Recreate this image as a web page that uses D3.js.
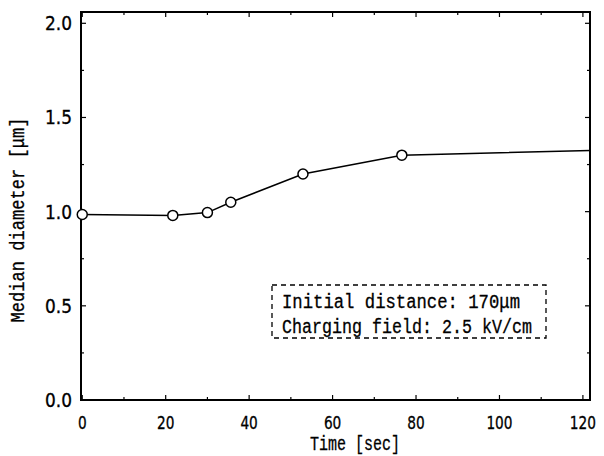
<!DOCTYPE html>
<html>
<head>
<meta charset="utf-8">
<script src="https://cdn.jsdelivr.net/npm/d3@7"></script>
<style>
  body { margin: 0; background: #fff; }
  text { fill: #000; }
</style>
</head>
<body>
<div id="chart"></div>
<script>
'use strict';

// measured points
var times = [0, 21.7, 30, 35.6, 52.9, 76.6];
var diameters = [0.985, 0.98, 0.995, 1.05, 1.2, 1.3];
// the drawn line runs on past the last point to the frame
var lineTimes = [0, 21.7, 30, 35.6, 52.9, 76.6, 121.7];
var lineDiameters = [0.985, 0.98, 0.995, 1.05, 1.2, 1.3, 1.325];

var xTicks = [0, 20, 40, 60, 80, 100, 120];
var xMinor = [10, 30, 50, 70, 90, 110];
var yTicks = [0, 0.5, 1.0, 1.5, 2.0];
var yMinor = [0.25, 0.75, 1.25, 1.75];
var noteLines = ['Initial distance: 170\u03bcm', 'Charging field: 2.5 kV/cm'];
var noteWidths = [238, 250];

var W = 604, H = 456;
var svg = d3.select('#chart').append('svg').attr('width', W).attr('height', H);

var x = d3.scaleLinear().domain([-0.3, 121.7]).range([81, 590]);
var y = d3.scaleLinear().domain([0, 2.06]).range([400, 12]);

var numFont = '"DejaVu Sans Condensed", "DejaVu Sans", sans-serif';
var monoFont = '"Liberation Mono", "DejaVu Sans Mono", monospace';

var x0 = x.range()[0], x1 = x.range()[1], y0 = y.range()[0], y1 = y.range()[1];

// frame
svg.append('rect')
  .attr('x', x0).attr('y', y1)
  .attr('width', x1 - x0).attr('height', y0 - y1)
  .attr('fill', 'none').attr('stroke', '#000').attr('stroke-width', 2);

// inward ticks on all four sides
function ticks(vals, len) {
  vals.forEach(function(v) {
    svg.append('line').attr('x1', x(v)).attr('x2', x(v)).attr('y1', y0).attr('y2', y0 - len)
      .attr('stroke', '#000').attr('stroke-width', 1.2);
    svg.append('line').attr('x1', x(v)).attr('x2', x(v)).attr('y1', y1).attr('y2', y1 + len)
      .attr('stroke', '#000').attr('stroke-width', 1.2);
  });
}
function yticks(vals, len) {
  vals.forEach(function(v) {
    svg.append('line').attr('x1', x0).attr('x2', x0 + len).attr('y1', y(v)).attr('y2', y(v))
      .attr('stroke', '#000').attr('stroke-width', 1.2);
    svg.append('line').attr('x1', x1).attr('x2', x1 - len).attr('y1', y(v)).attr('y2', y(v))
      .attr('stroke', '#000').attr('stroke-width', 1.2);
  });
}
ticks(xTicks, 5);
ticks(xMinor, 3);
yticks(yTicks, 5);
yticks(yMinor, 3);

// tick labels, tall and narrow like the scan
svg.selectAll('.xl').data(xTicks).enter().append('text')
  .attr('class', 'xl')
  .attr('x', function(d) { return x(d); })
  .attr('y', 429)
  .attr('text-anchor', 'middle')
  .attr('textLength', function(d) { return String(d).length * 8.7; })
  .attr('lengthAdjust', 'spacingAndGlyphs')
  .style('font-family', numFont).style('font-size', '18px')
  .style('stroke', '#000').style('stroke-width', 0.3)
  .text(function(d) { return d; });

svg.selectAll('.yl').data(yTicks).enter().append('text')
  .attr('class', 'yl')
  .attr('x', 72)
  .attr('y', function(d) { return y(d) + 7; })
  .attr('text-anchor', 'end')
  .attr('textLength', 27)
  .attr('lengthAdjust', 'spacingAndGlyphs')
  .style('font-family', numFont).style('font-size', '19px')
  .style('stroke', '#000').style('stroke-width', 0.3)
  .text(function(d) { return d.toFixed(1); });

// axis titles
svg.append('text')
  .attr('x', 355).attr('y', 450)
  .attr('text-anchor', 'middle')
  .attr('textLength', 90)
  .attr('lengthAdjust', 'spacingAndGlyphs')
  .style('font-family', monoFont).style('font-size', '20px')
  .style('stroke', '#000').style('stroke-width', 0.3)
  .text('Time [sec]');

svg.append('text')
  .attr('transform', 'translate(24,' + 220 + ') rotate(-90)')
  .attr('text-anchor', 'middle')
  .attr('textLength', 205)
  .attr('lengthAdjust', 'spacingAndGlyphs')
  .style('font-family', monoFont).style('font-size', '20px')
  .style('stroke', '#000').style('stroke-width', 0.3)
  .text('Median diameter [\u03bcm]');

// data line and markers
var line = d3.line()
  .x(function(d, i) { return x(lineTimes[i]); })
  .y(function(d) { return y(d); });

svg.append('path')
  .datum(lineDiameters)
  .attr('d', line)
  .attr('fill', 'none').attr('stroke', '#000').attr('stroke-width', 1.5);

svg.selectAll('.dot').data(diameters).enter().append('circle')
  .attr('class', 'dot')
  .attr('cx', function(d, i) { return x(times[i]); })
  .attr('cy', function(d) { return y(d); })
  .attr('r', 5)
  .attr('fill', '#fff').attr('stroke', '#000').attr('stroke-width', 1.5);

// note box
svg.append('rect')
  .attr('x', 272).attr('y', 285).attr('width', 274).attr('height', 53)
  .attr('fill', '#fff').attr('stroke', '#000').attr('stroke-width', 1.3)
  .attr('stroke-dasharray', '5,4');

svg.selectAll('.note').data(noteLines).enter().append('text')
  .attr('class', 'note')
  .attr('x', 282)
  .attr('y', function(d, i) { return 308 + i * 25; })
  .attr('textLength', function(d, i) { return noteWidths[i]; })
  .attr('lengthAdjust', 'spacingAndGlyphs')
  .style('font-family', monoFont).style('font-size', '20px')
  .style('stroke', '#000').style('stroke-width', 0.3)
  .text(function(d) { return d; });
</script>
</body>
</html>
